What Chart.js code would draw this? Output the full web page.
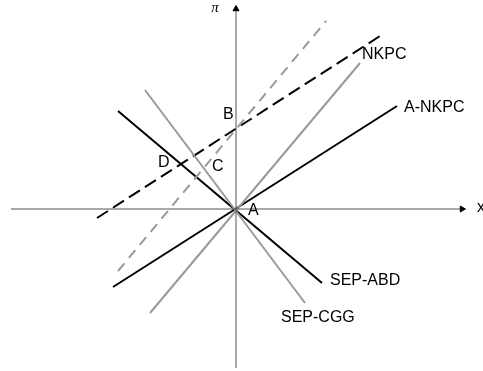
<!DOCTYPE html>
<html>
<head>
<meta charset="utf-8">
<script src="https://cdn.jsdelivr.net/npm/chart.js@4/dist/chart.umd.min.js"></script>
<style>
html,body{margin:0;padding:0;background:#fff;}
#wrap{width:483px;height:371px;}
</style>
</head>
<body>
<div id="wrap"><canvas id="c" width="483" height="371"></canvas></div>
<script>
// Line endpoints (x = output gap, y = inflation pi), arbitrary units, origin at A
const aNkpc   = [{x:-6.15,y:-3.9},{x:8.05,y:5.15}];
const shiftedANkpc = [{x:-6.95,y:-0.45},{x:7.2,y:8.65}];
const shiftedNkpc  = [{x:-5.9,y:-3.1},{x:4.5,y:9.4}];
const nkpc    = [{x:-4.3,y:-5.2},{x:6.2,y:7.3}];
const sepCgg  = [{x:-4.55,y:5.95},{x:3.45,y:-4.7}];
const sepAbd  = [{x:-5.9,y:4.9},{x:4.3,y:-3.7}];
const xAxisLine = [{x:-11.25,y:0},{x:11.2,y:0}];
const yAxisLine = [{x:0,y:-7.95},{x:0,y:9.9}];
const xArrow = [{x:11.3,y:0}];
const yArrow = [{x:0,y:10.0}];

// Text labels
const labelTexts = ['NKPC','A-NKPC','B','C','D','A','SEP-ABD','SEP-CGG','x'];
const labelX     = [6.3, 8.4, -0.65, -1.2, -3.9, 0.6, 4.7, 2.25, 12.05];
const labelY     = [7.7, 5.05, 4.7, 2.1, 2.3, -0.1, -3.6, -5.45, 0.05];

const BLACK = '#000000', GRAY = '#999999', AXIS = '#555555';

function lineDs(data, color, dash){
  return {data, showLine:true, borderColor:color, borderWidth:2, pointRadius:0,
          borderDash: dash||[], fill:false, tension:0};
}

const labelPlugin = {
  id:'labels',
  afterDatasetsDraw(chart){
    const {ctx, scales:{x, y}} = chart;
    ctx.save();
    ctx.fillStyle = '#000';
    ctx.textBaseline = 'middle';
    ctx.textAlign = 'left';
    ctx.font = '16px "Liberation Sans", Arial, sans-serif';
    labelTexts.forEach((t,i)=>{
      ctx.fillText(t, x.getPixelForValue(labelX[i]), y.getPixelForValue(labelY[i]));
    });
    ctx.font = 'italic 15px "Liberation Serif", serif';
    ctx.textAlign = 'center';
    ctx.fillText('π', x.getPixelForValue(-1.05), y.getPixelForValue(10.05));
    ctx.restore();
  }
};

new Chart(document.getElementById('c'), {
  type:'scatter',
  data:{datasets:[
    {data:xAxisLine, showLine:true, borderColor:AXIS, borderWidth:1, pointRadius:0},
    {data:yAxisLine, showLine:true, borderColor:AXIS, borderWidth:1, pointRadius:0},
    {data:xArrow, pointStyle:'triangle', rotation:90, pointRadius:3.5, backgroundColor:'#000', borderColor:'#000', borderWidth:1},
    {data:yArrow, pointStyle:'triangle', rotation:0, pointRadius:3.5, backgroundColor:'#000', borderColor:'#000', borderWidth:1},
    lineDs(nkpc, GRAY),
    lineDs(sepCgg, GRAY),
    lineDs(shiftedNkpc, GRAY, [10,7]),
    lineDs(aNkpc, BLACK),
    lineDs(sepAbd, BLACK),
    lineDs(shiftedANkpc, BLACK, [13,6])
  ]},
  options:{
    responsive:false,
    animation:false,
    layout:{padding:0, autoPadding:false},
    plugins:{legend:{display:false}, tooltip:{enabled:false}},
    scales:{
      x:{type:'linear', display:false, min:-11.8, max:12.35},
      y:{type:'linear', display:false, min:-8.1, max:10.45}
    }
  },
  plugins:[labelPlugin]
});
</script>
</body>
</html>
